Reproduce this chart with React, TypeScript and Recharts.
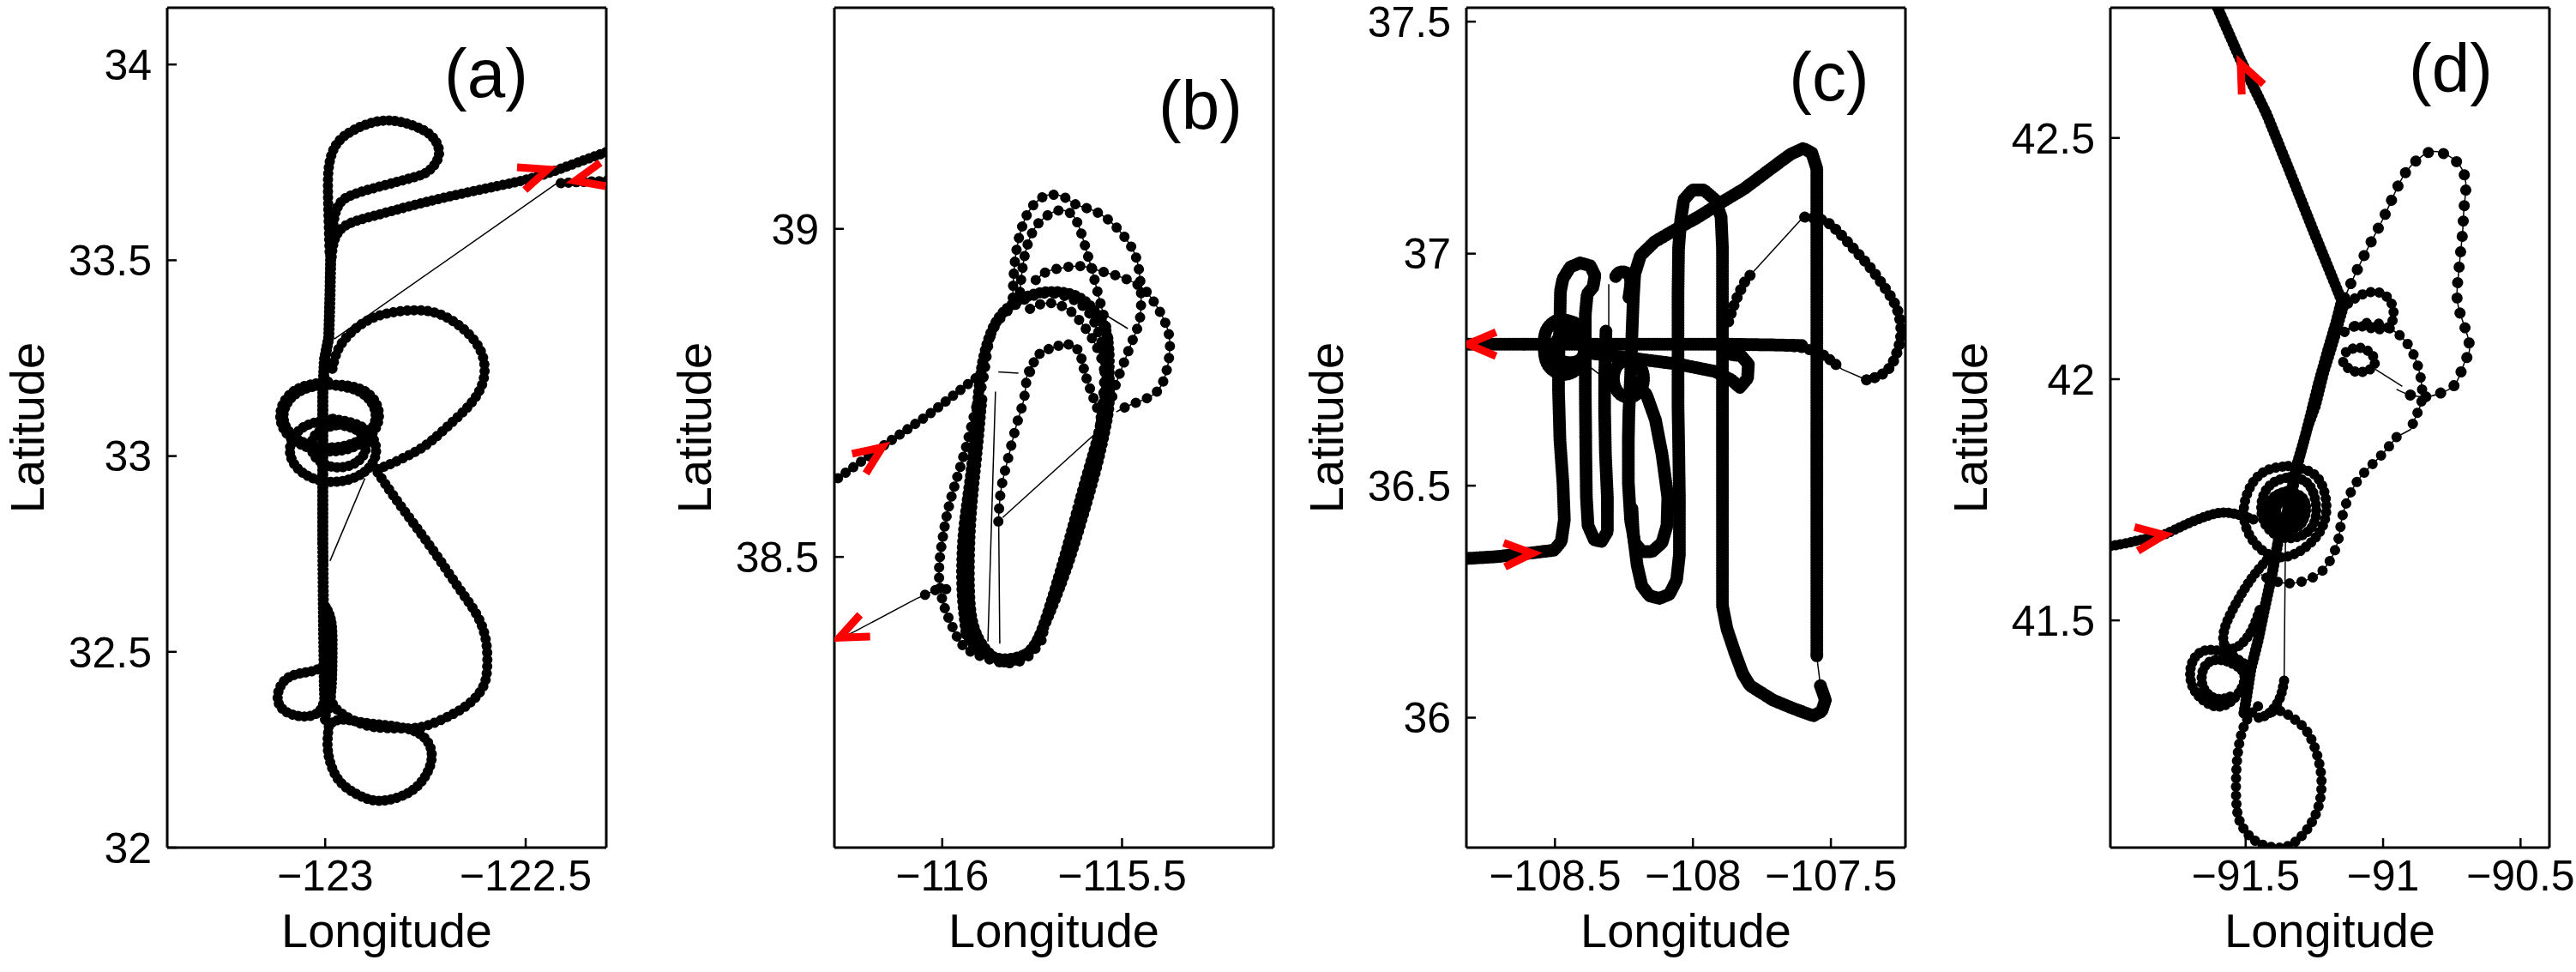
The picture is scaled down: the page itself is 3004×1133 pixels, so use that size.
import React from 'react';
import { ScatterChart, Scatter, XAxis, YAxis, Curve } from 'recharts';

type LL = [number, number];

const FONT = '"Liberation Sans", Arial, Helvetica, sans-serif';
const H = 1133;
const PLOT_TOP = 9;
const PLOT_BOTTOM = 988;
const PLOT_W = 512;
const AXIS_W = 195;
const RIGHT_PAD = 40;

// ---------- panel (a) ----------
const aXTicks = [-123, -122.5];
const aYTicks = [32, 32.5, 33, 33.5, 34];
const aInbound: LL[] = [[-122.3, 33.776], [-122.383, 33.745], [-122.477, 33.712], [-122.578, 33.688], [-122.686, 33.664], [-122.786, 33.639], [-122.873, 33.615], [-122.93, 33.598], [-122.963, 33.577], [-122.979, 33.544], [-122.984, 33.507]];
const aTopLoop: LL[] = [[-122.989, 33.522], [-122.992, 33.624], [-122.993, 33.704], [-122.988, 33.755], [-122.97, 33.799], [-122.93, 33.832], [-122.873, 33.854], [-122.815, 33.854], [-122.758, 33.834], [-122.725, 33.805], [-122.717, 33.766], [-122.74, 33.73], [-122.779, 33.712], [-122.858, 33.69], [-122.93, 33.668], [-122.963, 33.646], [-122.977, 33.609], [-122.982, 33.558]];
const aStem: LL[] = [[-122.986, 33.522], [-122.988, 33.412], [-122.991, 33.303], [-123.002, 33.245], [-123.006, 33.157], [-123.006, 32.982], [-123.006, 32.776], [-123.004, 32.557], [-123.002, 32.411], [-122.999, 32.316]];
const aStem2: LL[] = [[-122.999, 32.615], [-122.984, 32.571], [-122.982, 32.484], [-122.984, 32.411], [-122.991, 32.353]];
const aRightLoop: LL[] = [[-122.982, 33.223], [-122.963, 33.281], [-122.916, 33.332], [-122.858, 33.361], [-122.786, 33.372], [-122.722, 33.365], [-122.664, 33.332], [-122.621, 33.285], [-122.603, 33.234], [-122.61, 33.179], [-122.642, 33.128], [-122.686, 33.084], [-122.736, 33.038], [-122.779, 33.009], [-122.83, 32.983], [-122.873, 32.965]];
const aRing1: LL[] = [[-122.989, 33.182], [-122.909, 33.161], [-122.874, 33.102], [-122.909, 33.044], [-122.989, 33.022], [-123.07, 33.044], [-123.104, 33.102], [-123.07, 33.161], [-122.989, 33.182], [-122.9, 33.165], [-122.866, 33.1], [-122.905, 33.036], [-122.99, 33.012], [-123.078, 33.04], [-123.112, 33.105], [-123.075, 33.168], [-122.99, 33.19]];
const aRing2: LL[] = [[-122.981, 33.095], [-122.904, 33.072], [-122.873, 33.015], [-122.904, 32.958], [-122.981, 32.934], [-123.057, 32.958], [-123.088, 33.015], [-123.057, 33.072], [-122.981, 33.095]];
const aRing3: LL[] = [[-122.966, 33.08], [-122.918, 33.064], [-122.898, 33.026], [-122.918, 32.987], [-122.966, 32.971], [-123.014, 32.987], [-123.035, 33.026], [-123.014, 33.064], [-122.966, 33.08]];
const aLowerLoop: LL[] = [[-122.869, 32.958], [-122.83, 32.899], [-122.779, 32.827], [-122.722, 32.746], [-122.664, 32.659], [-122.621, 32.593], [-122.599, 32.528], [-122.596, 32.462], [-122.606, 32.411], [-122.642, 32.367], [-122.693, 32.335], [-122.743, 32.313], [-122.786, 32.305], [-122.844, 32.305], [-122.901, 32.313], [-122.952, 32.338], [-122.981, 32.367], [-122.991, 32.411]];
const aBottomLoop: LL[] = [[-122.991, 32.309], [-122.994, 32.258], [-122.984, 32.207], [-122.955, 32.16], [-122.901, 32.127], [-122.855, 32.12], [-122.804, 32.134], [-122.761, 32.167], [-122.736, 32.218], [-122.74, 32.262], [-122.765, 32.291], [-122.801, 32.305], [-122.851, 32.313], [-122.909, 32.32], [-122.959, 32.327], [-122.988, 32.316]];
const aLeftLoop: LL[] = [[-123.006, 32.462], [-123.031, 32.451], [-123.067, 32.444], [-123.099, 32.429], [-123.117, 32.397], [-123.114, 32.364], [-123.088, 32.342], [-123.049, 32.335], [-123.017, 32.346], [-123.002, 32.375]];
const aOutbound: LL[] = [[-122.297, 33.703], [-122.383, 33.699], [-122.423, 33.696]];
const aJump1: LL[] = [[-122.423, 33.696], [-122.977, 33.299]];
const aJump2: LL[] = [[-122.988, 32.732], [-122.901, 32.943]];
const aArrows = [{ x: -122.445, y: 33.732, heading: 19 }, { x: -122.376, y: 33.703, heading: 193 }];

// ---------- panel (b) ----------
const bXTicks = [-116, -115.5];
const bYTicks = [38.5, 39];
const bIn: LL[] = [[-116.29, 38.62], [-116.165, 38.669], [-116.037, 38.717], [-115.925, 38.765], [-115.893, 38.778]];
const bOutDots: LL[] = [[-115.989, 38.451], [-116.013, 38.451], [-116.045, 38.443], [-116.073, 38.436]];
const bOutJump: LL[] = [[-116.073, 38.436], [-116.245, 38.386], [-116.302, 38.371]];
const bLap1: LL[] = [[-115.933, 38.382], [-115.901, 38.36], [-115.836, 38.345], [-115.772, 38.351], [-115.74, 38.368], [-115.7, 38.416], [-115.652, 38.486], [-115.612, 38.556], [-115.572, 38.634], [-115.548, 38.691], [-115.536, 38.734], [-115.536, 38.778], [-115.536, 38.808], [-115.544, 38.843], [-115.568, 38.869], [-115.612, 38.893], [-115.676, 38.904], [-115.748, 38.9], [-115.812, 38.882], [-115.852, 38.856], [-115.877, 38.821], [-115.893, 38.778], [-115.905, 38.713], [-115.921, 38.625], [-115.941, 38.538], [-115.945, 38.451], [-115.933, 38.382]];
const bLap2: LL[] = [[-115.724, 38.373], [-115.764, 38.347], [-115.82, 38.338], [-115.885, 38.347], [-115.941, 38.364], [-115.973, 38.395], [-115.997, 38.429], [-116.009, 38.473], [-116.001, 38.521], [-115.985, 38.569], [-115.961, 38.617], [-115.933, 38.669], [-115.909, 38.721], [-115.885, 38.774], [-115.869, 38.83], [-115.836, 38.865], [-115.788, 38.887], [-115.732, 38.9], [-115.676, 38.9], [-115.62, 38.887], [-115.58, 38.861], [-115.556, 38.826], [-115.548, 38.8], [-115.552, 38.747], [-115.564, 38.691], [-115.596, 38.617], [-115.636, 38.538], [-115.676, 38.464], [-115.708, 38.408], [-115.724, 38.373]];
const bLap3: LL[] = [[-115.89, 38.74], [-115.905, 38.65], [-115.92, 38.56], [-115.925, 38.47], [-115.915, 38.4], [-115.88, 38.36], [-115.84, 38.342], [-115.8, 38.342], [-115.752, 38.36], [-115.716, 38.4], [-115.676, 38.47], [-115.64, 38.54], [-115.6, 38.62], [-115.56, 38.7], [-115.545, 38.76]];
const bInner: LL[] = [[-115.756, 38.878], [-115.708, 38.887], [-115.652, 38.878], [-115.612, 38.856], [-115.58, 38.83], [-115.556, 38.8], [-115.544, 38.765]];
const bArchA: LL[] = [[-115.804, 38.895], [-115.8, 38.939], [-115.788, 38.983], [-115.764, 39.022], [-115.732, 39.044], [-115.7, 39.052], [-115.66, 39.048], [-115.628, 39.037], [-115.58, 39.028], [-115.532, 39.011], [-115.492, 38.987], [-115.464, 38.961], [-115.451, 38.93], [-115.447, 38.895], [-115.451, 38.861], [-115.468, 38.834], [-115.492, 38.8], [-115.516, 38.765], [-115.532, 38.734]];
const bArchB: LL[] = [[-115.784, 38.904], [-115.772, 38.956], [-115.748, 38.996], [-115.716, 39.017], [-115.676, 39.028], [-115.636, 39.02], [-115.612, 38.991], [-115.596, 38.961], [-115.58, 38.93], [-115.564, 38.895], [-115.548, 38.861], [-115.536, 38.826]];
const bArchC: LL[] = [[-115.74, 38.922], [-115.708, 38.935], [-115.66, 38.941], [-115.612, 38.943], [-115.556, 38.935], [-115.5, 38.926], [-115.451, 38.913], [-115.419, 38.895], [-115.379, 38.856], [-115.367, 38.817], [-115.379, 38.778], [-115.403, 38.752], [-115.443, 38.739], [-115.484, 38.73], [-115.516, 38.721]];
const bLoopD: LL[] = [[-115.756, 38.782], [-115.732, 38.808], [-115.692, 38.819], [-115.652, 38.824], [-115.62, 38.813], [-115.604, 38.782], [-115.58, 38.743], [-115.556, 38.708]];
const bChainE: LL[] = [[-115.844, 38.554], [-115.836, 38.604], [-115.816, 38.652], [-115.792, 38.704], [-115.772, 38.743], [-115.764, 38.778], [-115.756, 38.782]];
const bJump1: LL[] = [[-115.844, 38.782], [-115.788, 38.78]];
const bJump2: LL[] = [[-115.852, 38.752], [-115.873, 38.371]];
const bJump3: LL[] = [[-115.843, 38.551], [-115.84, 38.368]];
const bJump4: LL[] = [[-115.832, 38.56], [-115.572, 38.689]];
const bJump5: LL[] = [[-115.941, 38.451], [-115.885, 38.373]];
const bJump6: LL[] = [[-115.612, 38.891], [-115.484, 38.848]];
const bArrows = [{ x: -116.167, y: 38.667, heading: 35 }, { x: -116.286, y: 38.377, heading: 205 }];

// ---------- panel (c) ----------
const cXTicks = [-108.5, -108, -107.5];
const cYTicks = [36, 36.5, 37, 37.5];
const cIn: LL[] = [[-108.821, 36.343], [-108.711, 36.347], [-108.586, 36.355], [-108.503, 36.361], [-108.477, 36.38], [-108.466, 36.426], [-108.471, 36.506], [-108.482, 36.599], [-108.487, 36.703], [-108.487, 36.765], [-108.482, 36.857], [-108.48, 36.919], [-108.471, 36.946], [-108.445, 36.971], [-108.409, 36.98], [-108.372, 36.974], [-108.355, 36.953], [-108.362, 36.928], [-108.383, 36.913], [-108.39, 36.869], [-108.39, 36.796], [-108.39, 36.703], [-108.388, 36.568], [-108.386, 36.475], [-108.38, 36.414], [-108.357, 36.383], [-108.331, 36.38], [-108.31, 36.401], [-108.31, 36.475], [-108.317, 36.568], [-108.32, 36.66], [-108.32, 36.734], [-108.315, 36.833]];
const cCircle1: LL[] = [[-108.466, 36.857], [-108.409, 36.842], [-108.393, 36.799], [-108.409, 36.759], [-108.466, 36.74], [-108.524, 36.759], [-108.539, 36.799], [-108.524, 36.842], [-108.466, 36.857], [-108.445, 36.826], [-108.404, 36.817], [-108.393, 36.796], [-108.404, 36.774], [-108.445, 36.765], [-108.487, 36.774], [-108.498, 36.796], [-108.487, 36.817], [-108.445, 36.826]];
const cCircle2: LL[] = [[-108.234, 36.771], [-108.195, 36.76], [-108.179, 36.731], [-108.195, 36.702], [-108.234, 36.691], [-108.272, 36.702], [-108.288, 36.731], [-108.272, 36.76], [-108.234, 36.771]];
const cMid: LL[] = [[-108.211, 36.722], [-108.169, 36.697], [-108.136, 36.642], [-108.112, 36.568], [-108.091, 36.475], [-108.094, 36.414], [-108.112, 36.377], [-108.148, 36.358], [-108.185, 36.358], [-108.211, 36.377], [-108.226, 36.426], [-108.234, 36.506], [-108.234, 36.599], [-108.232, 36.66], [-108.226, 36.734], [-108.221, 36.826], [-108.216, 36.906], [-108.211, 36.956], [-108.19, 36.996], [-108.138, 37.026], [-108.065, 37.051], [-107.981, 37.079], [-107.898, 37.11], [-107.814, 37.14], [-107.731, 37.177], [-107.647, 37.214], [-107.6, 37.227], [-107.569, 37.217], [-107.551, 37.183], [-107.551, 37.103], [-107.551, 36.98], [-107.551, 36.796], [-107.551, 36.672], [-107.551, 36.537], [-107.551, 36.352], [-107.551, 36.131]];
const cSouth: LL[] = [[-107.538, 36.069], [-107.52, 36.038], [-107.533, 36.014], [-107.564, 36.004], [-107.637, 36.02], [-107.71, 36.038], [-107.793, 36.069], [-107.819, 36.094], [-107.846, 36.137], [-107.877, 36.192], [-107.893, 36.241], [-107.893, 36.352], [-107.893, 36.475], [-107.893, 36.599], [-107.893, 36.672], [-107.893, 36.857], [-107.893, 37.011], [-107.898, 37.079], [-107.919, 37.116], [-107.96, 37.137], [-108.002, 37.137], [-108.033, 37.116], [-108.044, 37.073], [-108.052, 37.011], [-108.054, 36.919], [-108.054, 36.796], [-108.054, 36.672], [-108.052, 36.599], [-108.049, 36.475], [-108.049, 36.352], [-108.059, 36.297], [-108.085, 36.266], [-108.122, 36.257], [-108.158, 36.263], [-108.185, 36.284], [-108.202, 36.328], [-108.216, 36.395], [-108.221, 36.451]];
const cHook: LL[] = [[-108.232, 36.906], [-108.226, 36.943], [-108.242, 36.959], [-108.268, 36.959], [-108.284, 36.946]];
const cSmallLoop: LL[] = [[-108.378, 36.786], [-108.211, 36.774], [-108.054, 36.762], [-107.919, 36.746], [-107.861, 36.728], [-107.83, 36.712], [-107.802, 36.731], [-107.799, 36.762], [-107.825, 36.78], [-107.866, 36.783]];
const cExit: LL[] = [[-107.606, 36.802], [-107.689, 36.803], [-107.898, 36.805], [-108.211, 36.805], [-108.524, 36.805], [-108.821, 36.805]];
const cEast: LL[] = [[-107.689, 36.803], [-107.595, 36.797], [-107.522, 36.78], [-107.46, 36.751]];
const cEastLoop: LL[] = [[-107.371, 36.728], [-107.324, 36.737], [-107.282, 36.759], [-107.256, 36.796], [-107.246, 36.833], [-107.261, 36.882], [-107.303, 36.925], [-107.355, 36.968], [-107.418, 37.011], [-107.48, 37.051], [-107.533, 37.073], [-107.6, 37.079]];
const cEastTail: LL[] = [[-107.793, 36.953], [-107.809, 36.943], [-107.835, 36.913], [-107.856, 36.882], [-107.872, 36.851]];
const cJump1: LL[] = [[-107.551, 36.131], [-107.538, 36.069]];
const cJump2: LL[] = [[-108.305, 36.934], [-108.305, 36.839]];
const cJump3: LL[] = [[-108.42, 36.777], [-108.325, 36.734]];
const cJump4: LL[] = [[-107.46, 36.751], [-107.371, 36.728]];
const cJump5: LL[] = [[-107.6, 37.079], [-107.793, 36.953]];
const cArrows = [{ x: -108.816, y: 36.805, heading: 180 }, { x: -108.581, y: 36.354, heading: 3 }];

// ---------- panel (d) ----------
const dXTicks = [-91.5, -91, -90.5];
const dYTicks = [41.5, 42, 42.5];
const dMain: LL[] = [[-91.602, 42.77], [-91.518, 42.661], [-91.423, 42.549], [-91.339, 42.43], [-91.256, 42.311], [-91.172, 42.193], [-91.151, 42.163], [-91.172, 42.116], [-91.203, 42.056], [-91.235, 41.991], [-91.266, 41.92], [-91.287, 41.874], [-91.318, 41.814], [-91.339, 41.755], [-91.355, 41.708]];
const dMain2: LL[] = [[-91.14, 42.157], [-91.182, 42.074], [-91.214, 42.015], [-91.245, 41.944], [-91.276, 41.897], [-91.308, 41.826], [-91.329, 41.767]];
const dIn: LL[] = [[-91.992, 41.654], [-91.927, 41.661], [-91.864, 41.669], [-91.801, 41.677], [-91.717, 41.699], [-91.612, 41.721], [-91.549, 41.722], [-91.507, 41.716], [-91.465, 41.708]];
const dRing1: LL[] = [[-91.345, 41.82], [-91.256, 41.805], [-91.214, 41.767], [-91.208, 41.719], [-91.245, 41.672], [-91.329, 41.636], [-91.413, 41.636], [-91.481, 41.672], [-91.507, 41.725], [-91.481, 41.779], [-91.423, 41.811], [-91.345, 41.82]];
const dRing2: LL[] = [[-91.339, 41.797], [-91.276, 41.785], [-91.245, 41.743], [-91.256, 41.696], [-91.318, 41.672], [-91.392, 41.678], [-91.439, 41.714], [-91.434, 41.761], [-91.392, 41.788], [-91.339, 41.797]];
const dRing3: LL[] = [[-91.35, 41.767], [-91.297, 41.755], [-91.282, 41.728], [-91.303, 41.699], [-91.35, 41.69], [-91.397, 41.702], [-91.418, 41.728], [-91.397, 41.755], [-91.35, 41.767]];
const dRing4: LL[] = [[-91.355, 41.749], [-91.324, 41.74], [-91.318, 41.725], [-91.334, 41.711], [-91.36, 41.708], [-91.387, 41.716], [-91.392, 41.731], [-91.381, 41.744], [-91.355, 41.749]];
const dRight: LL[] = [[-91.14, 42.169], [-91.098, 42.222], [-91.046, 42.282], [-90.993, 42.341], [-90.941, 42.406], [-90.899, 42.442], [-90.857, 42.463], [-90.815, 42.472], [-90.762, 42.463], [-90.72, 42.442], [-90.699, 42.406], [-90.705, 42.359], [-90.71, 42.311], [-90.718, 42.264], [-90.726, 42.216], [-90.731, 42.169], [-90.715, 42.128], [-90.691, 42.086], [-90.687, 42.056], [-90.705, 42.033], [-90.736, 41.991], [-90.783, 41.973], [-90.836, 41.964], [-90.899, 41.967], [-90.951, 41.979]];
const dLoop1: LL[] = [[-91.151, 42.145], [-91.098, 42.169], [-91.035, 42.181], [-90.983, 42.169], [-90.962, 42.139], [-90.977, 42.11], [-91.025, 42.104], [-91.088, 42.11], [-91.13, 42.104]];
const dLoop2: LL[] = [[-91.14, 42.098], [-91.088, 42.113], [-91.025, 42.116], [-90.972, 42.104], [-90.93, 42.086], [-90.899, 42.062], [-90.873, 42.027], [-90.859, 41.985], [-90.862, 41.95], [-90.883, 41.92], [-90.899, 41.896]];
const dLoop3: LL[] = [[-91.135, 42.056], [-91.098, 42.065], [-91.056, 42.059], [-91.03, 42.039], [-91.046, 42.021], [-91.093, 42.015], [-91.135, 42.027], [-91.151, 42.045]];
const dTail: LL[] = [[-90.951, 41.88], [-91.004, 41.844], [-91.056, 41.814], [-91.098, 41.785], [-91.13, 41.749], [-91.151, 41.708], [-91.161, 41.672], [-91.182, 41.636], [-91.214, 41.607], [-91.256, 41.589], [-91.329, 41.577], [-91.402, 41.583], [-91.444, 41.595]];
const dDown: LL[] = [[-91.381, 41.666], [-91.402, 41.601], [-91.429, 41.53], [-91.455, 41.458], [-91.481, 41.399], [-91.497, 41.34], [-91.507, 41.304]];
const dLoopL1: LL[] = [[-91.423, 41.625], [-91.476, 41.589], [-91.528, 41.542], [-91.57, 41.494], [-91.581, 41.458], [-91.56, 41.441], [-91.518, 41.45], [-91.476, 41.482], [-91.444, 41.53]];
const dLoopL2: LL[] = [[-91.507, 41.411], [-91.57, 41.432], [-91.644, 41.438], [-91.691, 41.417], [-91.701, 41.381], [-91.675, 41.346], [-91.612, 41.322], [-91.549, 41.334], [-91.507, 41.37], [-91.518, 41.399], [-91.581, 41.417], [-91.639, 41.411], [-91.66, 41.381], [-91.644, 41.352], [-91.597, 41.337], [-91.539, 41.346]];
const dBottom: LL[] = [[-91.455, 41.322], [-91.497, 41.292], [-91.523, 41.245], [-91.534, 41.186], [-91.534, 41.126], [-91.518, 41.079], [-91.465, 41.043], [-91.402, 41.03], [-91.339, 41.034], [-91.276, 41.067], [-91.235, 41.114], [-91.224, 41.168], [-91.24, 41.221], [-91.276, 41.269], [-91.329, 41.298], [-91.381, 41.313], [-91.423, 41.304]];
const dHook: LL[] = [[-91.36, 41.375], [-91.371, 41.346], [-91.392, 41.322], [-91.423, 41.304], [-91.455, 41.298]];
const dJump1: LL[] = [[-90.899, 41.896], [-90.951, 41.88]];
const dJump2: LL[] = [[-91.03, 42.021], [-90.93, 41.985]];
const dJump3: LL[] = [[-91.355, 41.678], [-91.36, 41.375]];
const dArrows = [{ x: -91.518, y: 42.654, heading: 115 }, { x: -91.796, y: 41.677, heading: 8 }];

// ---------- drawing helpers ----------
type Track = { data: LL[]; gap: number; size: number; curve?: string };

const fmtLon = (v: number) => (v < 0 ? '\u2212' : '') + Math.abs(v);
const fmtLat = (v: number) => String(v);
const toPts = (d: LL[]) => d.map(([x, y]) => ({ x, y }));

function TrackPath(props: any) {
  const { points, dotGap, dotSize, curveType } = props;
  if (!points || points.length < 2) return null;
  return (
    <g>
      <Curve points={points} type={curveType} fill="none" stroke="#000" strokeWidth={1.5} />
      {dotGap > 0 ? (
        <Curve
          points={points}
          type={curveType}
          fill="none"
          stroke="#000"
          strokeWidth={dotSize}
          strokeLinecap="round"
          strokeLinejoin="round"
          strokeDasharray={`0.01 ${dotGap}`}
        />
      ) : null}
    </g>
  );
}

const NoDot = () => <g />;

function ArrowHead(props: any) {
  const { cx, cy, payload } = props;
  if (cx == null || cy == null) return <g />;
  return (
    <path
      transform={`translate(${cx},${cy}) rotate(${-payload.heading})`}
      d="M-33,-14 L0,0 L-33,14"
      fill="none"
      stroke="#ff0000"
      strokeWidth={9}
    />
  );
}

const thin = (data: LL[]): Track => ({ data, gap: 0, size: 0, curve: 'linear' });

interface PanelProps {
  plotLeft: number;
  xDomain: [number, number];
  yDomain: [number, number];
  xTicks: number[];
  yTicks: number[];
  tracks: Track[];
  arrows: { x: number; y: number; heading: number }[];
}

function Panel({ plotLeft, xDomain, yDomain, xTicks, yTicks, tracks, arrows }: PanelProps) {
  const axisLine = { stroke: '#000', strokeWidth: 3 };
  const tickLine = { stroke: '#000', strokeWidth: 2.5 };
  const tickStyle = { fill: '#000', fontSize: 50, fontFamily: FONT };
  return (
    <div style={{ position: 'absolute', left: plotLeft - AXIS_W, top: 0 }}>
      <ScatterChart
        width={AXIS_W + PLOT_W + RIGHT_PAD}
        height={H}
        margin={{ top: PLOT_TOP - 1, right: RIGHT_PAD - 1, bottom: 0, left: 0 }}
      >
        <XAxis
          xAxisId="b"
          dataKey="x"
          type="number"
          domain={xDomain}
          allowDataOverflow
          ticks={xTicks}
          interval={0}
          height={H - PLOT_BOTTOM}
          tickSize={-11}
          tickMargin={25}
          tickFormatter={fmtLon}
          tick={tickStyle}
          axisLine={axisLine}
          tickLine={tickLine}
          label={{ value: 'Longitude', position: 'insideBottom', offset: 29, fill: '#000', fontSize: 56, fontFamily: FONT }}
        />
        <YAxis
          yAxisId="l"
          dataKey="y"
          type="number"
          domain={yDomain}
          allowDataOverflow
          ticks={yTicks}
          interval={0}
          width={AXIS_W}
          tickSize={-11}
          tickMargin={29}
          tickFormatter={fmtLat}
          tick={tickStyle}
          axisLine={axisLine}
          tickLine={tickLine}
          label={{ value: 'Latitude', angle: -90, position: 'insideLeft', offset: 31, fill: '#000', fontSize: 56, fontFamily: FONT, style: { textAnchor: 'middle' } }}
        />
        <XAxis
          xAxisId="t"
          orientation="top"
          dataKey="x"
          type="number"
          domain={xDomain}
          allowDataOverflow
          ticks={xTicks}
          interval={0}
          height={1}
          tickSize={-11}
          tick={false}
          axisLine={axisLine}
          tickLine={tickLine}
        />
        <YAxis
          yAxisId="r"
          orientation="right"
          dataKey="y"
          type="number"
          domain={yDomain}
          allowDataOverflow
          ticks={yTicks}
          interval={0}
          width={1}
          tickSize={-11}
          tick={false}
          axisLine={axisLine}
          tickLine={tickLine}
        />
        <Scatter xAxisId="t" yAxisId="r" data={toPts(tracks[0].data)} shape={NoDot} isAnimationActive={false} />
        {tracks.map((t, i) => (
          <Scatter
            key={i}
            xAxisId="b"
            yAxisId="l"
            data={toPts(t.data)}
            shape={NoDot}
            line={<TrackPath dotGap={t.gap} dotSize={t.size} curveType={t.curve || 'natural'} />}
            isAnimationActive={false}
          />
        ))}
        <Scatter xAxisId="b" yAxisId="l" data={arrows} shape={ArrowHead} isAnimationActive={false} />
      </ScatterChart>
    </div>
  );
}

export default function App() {
  const tags = [
    { t: '(a)', x: 567, y: 113 },
    { t: '(b)', x: 1400, y: 150 },
    { t: '(c)', x: 2133, y: 117 },
    { t: '(d)', x: 2858, y: 107 },
  ];
  return (
    <div style={{ position: 'absolute', left: 0, top: 0, width: 3004, height: H, background: '#fff', overflow: 'hidden' }}>
      <Panel
        plotLeft={195}
        xDomain={[-123.394, -122.299]}
        yDomain={[32.0, 34.145]}
        xTicks={aXTicks}
        yTicks={aYTicks}
        arrows={aArrows}
        tracks={[
          thin(aJump1),
          thin(aJump2),
          { data: aOutbound, gap: 9, size: 12, curve: 'linear' },
          { data: aInbound, gap: 7, size: 12 },
          { data: aTopLoop, gap: 7, size: 12 },
          { data: aStem, gap: 5, size: 13, curve: 'linear' },
          { data: aStem2, gap: 5, size: 12 },
          { data: aRightLoop, gap: 8, size: 12 },
          { data: aRing1, gap: 7, size: 12 },
          { data: aRing2, gap: 7, size: 12 },
          { data: aRing3, gap: 7, size: 12 },
          { data: aLowerLoop, gap: 8, size: 12 },
          { data: aBottomLoop, gap: 7, size: 12 },
          { data: aLeftLoop, gap: 7, size: 12 },
        ]}
      />
      <Panel
        plotLeft={973}
        xDomain={[-116.3, -115.079]}
        yDomain={[38.057, 39.337]}
        xTicks={bXTicks}
        yTicks={bYTicks}
        arrows={bArrows}
        tracks={[
          thin(bOutJump),
          thin(bJump1),
          thin(bJump2),
          thin(bJump3),
          thin(bJump4),
          thin(bJump5),
          thin(bJump6),
          { data: bIn, gap: 11, size: 12, curve: 'linear' },
          { data: bOutDots, gap: 13, size: 12, curve: 'linear' },
          { data: bLap1, gap: 7, size: 13 },
          { data: bLap2, gap: 12, size: 12 },
          { data: bLap3, gap: 7, size: 13 },
          { data: bInner, gap: 13, size: 12 },
          { data: bArchA, gap: 14, size: 12 },
          { data: bArchB, gap: 14, size: 12 },
          { data: bArchC, gap: 14, size: 12 },
          { data: bLoopD, gap: 12, size: 12 },
          { data: bChainE, gap: 15, size: 12 },
        ]}
      />
      <Panel
        plotLeft={1710}
        xDomain={[-108.821, -107.23]}
        yDomain={[35.72, 37.53]}
        xTicks={cXTicks}
        yTicks={cYTicks}
        arrows={cArrows}
        tracks={[
          thin(cJump1),
          thin(cJump2),
          thin(cJump3),
          thin(cJump4),
          thin(cJump5),
          { data: cIn, gap: 3, size: 15, curve: 'linear' },
          { data: cCircle1, gap: 3, size: 15 },
          { data: cCircle2, gap: 3, size: 15 },
          { data: cMid, gap: 3, size: 15, curve: 'linear' },
          { data: cSouth, gap: 3, size: 15, curve: 'linear' },
          { data: cHook, gap: 3, size: 15 },
          { data: cSmallLoop, gap: 3, size: 15, curve: 'linear' },
          { data: cExit, gap: 3, size: 15, curve: 'linear' },
          { data: cEast, gap: 9, size: 13, curve: 'linear' },
          { data: cEastLoop, gap: 10, size: 13 },
          { data: cEastTail, gap: 10, size: 13, curve: 'linear' },
        ]}
      />
      <Panel
        plotLeft={2461}
        xDomain={[-91.992, -90.395]}
        yDomain={[41.029, 42.77]}
        xTicks={dXTicks}
        yTicks={dYTicks}
        arrows={dArrows}
        tracks={[
          thin(dJump1),
          thin(dJump2),
          thin(dJump3),
          { data: dMain, gap: 5, size: 13, curve: 'linear' },
          { data: dMain2, gap: 5, size: 12, curve: 'linear' },
          { data: dIn, gap: 6, size: 12 },
          { data: dRing1, gap: 8, size: 12 },
          { data: dRing2, gap: 7, size: 12 },
          { data: dRing3, gap: 5, size: 13 },
          { data: dRing4, gap: 4, size: 14 },
          { data: dRight, gap: 18, size: 13 },
          { data: dLoop1, gap: 10, size: 12 },
          { data: dLoop2, gap: 14, size: 12 },
          { data: dLoop3, gap: 9, size: 12 },
          { data: dTail, gap: 14, size: 12 },
          { data: dDown, gap: 5, size: 13, curve: 'linear' },
          { data: dLoopL1, gap: 7, size: 12 },
          { data: dLoopL2, gap: 7, size: 12 },
          { data: dBottom, gap: 10, size: 12 },
          { data: dHook, gap: 7, size: 12 },
        ]}
      />
      <svg width={3004} height={H} style={{ position: 'absolute', left: 0, top: 0, pointerEvents: 'none' }}>
        {tags.map((g) => (
          <text key={g.t} x={g.x} y={g.y} textAnchor="middle" fontSize={80} fontFamily={FONT} fill="#000">
            {g.t}
          </text>
        ))}
      </svg>
    </div>
  );
}
